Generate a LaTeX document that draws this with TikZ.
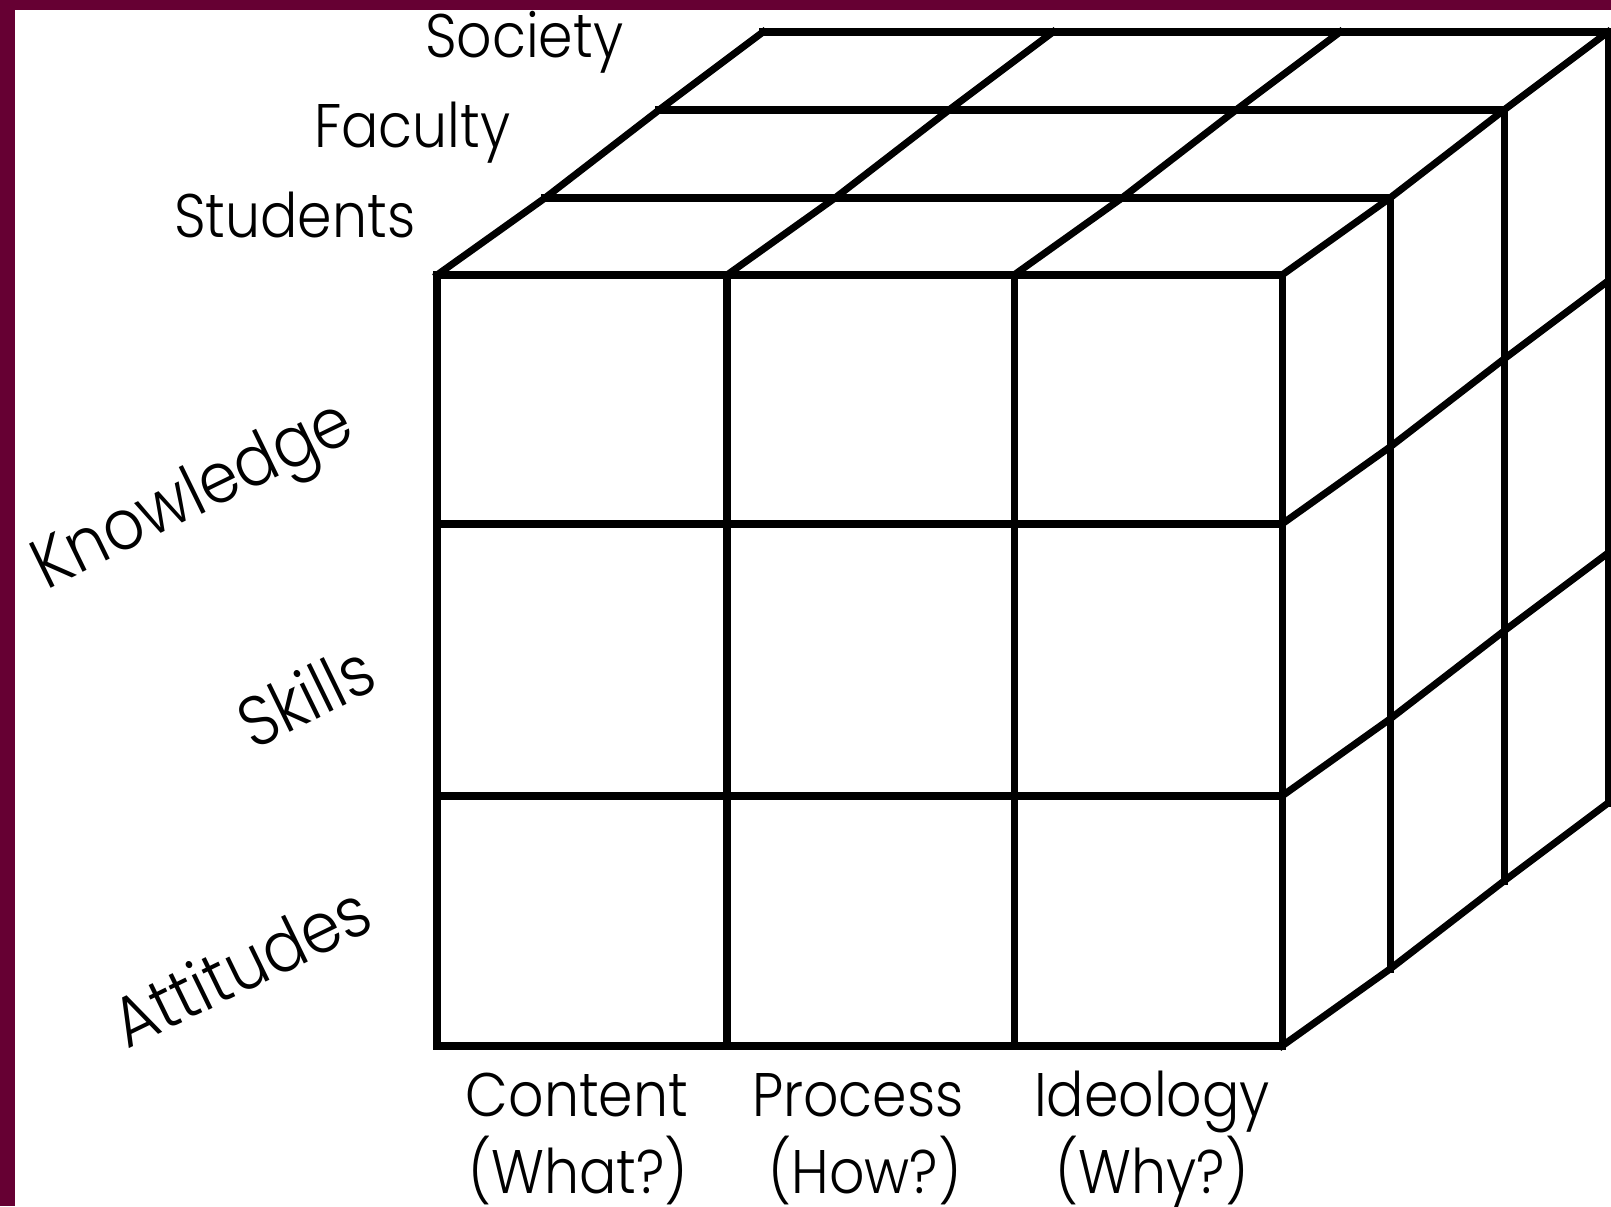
\documentclass[tikz,border=0pt]{standalone}
\usepackage{fontspec}
\setmainfont{Poppins Light}[FakeStretch=0.9]
\usepackage{tikz}
\usetikzlibrary{positioning}

\definecolor{framered}{HTML}{660033}

\begin{document}
\begin{tikzpicture}
	[
		edge/.style={line width=2pt, line cap=rect, line join=miter},
		lab/.style={font=\fontsize{17.5}{20}\selectfont, inner sep=0pt},
		side/.style={lab, font=\fontsize{20}{24}\selectfont, anchor=base, rotate=26}
	]
	% frame
	\useasboundingbox (0,0) rectangle (16.11,12.06);
	\fill[framered] (0,0) rectangle (16.11,12.06);
	\fill[white] (0.15,0) rectangle (16.11,11.96);

	% front face
	\foreach \x in {4.37,7.27,10.14,12.82}
		\draw[edge] (\x,1.60) -- (\x,9.31);
	\foreach \y in {1.60,4.10,6.82,9.31}
		\draw[edge] (4.37,\y) -- (12.82,\y);

	% layers behind: rows on top, columns on the right
	\foreach \dx/\dy in {1.08/0.77, 2.22/1.65, 3.26/2.43} {
		\draw[edge] (4.37+\dx,9.31+\dy) -- (12.82+\dx,9.31+\dy);
		\draw[edge] (12.82+\dx,1.60+\dy) -- (12.82+\dx,9.31+\dy);
	}

	% receding edges
	\foreach \x in {4.37,7.27,10.14,12.82}
		\draw[edge] (\x,9.31) -- (\x+1.08,10.08) -- (\x+2.22,10.96) -- (\x+3.26,11.74);
	\foreach \y in {1.60,4.10,6.82}
		\draw[edge] (12.82,\y) -- (13.90,\y+0.77) -- (15.04,\y+1.65) -- (16.08,\y+2.43);

	% depth labels
	\node[lab, anchor=base east] (society) at (6.24,11.48) {Society};
	\node[lab, anchor=base east] (faculty) at (5.11,10.58) {Faculty};
	\node[lab, anchor=base east] (students) at (4.16,9.68) {Students};

	% row labels
	\node[side] (knowledge) at (2.02,6.92) {Knowledge};
	\node[side] (skills) at (3.17,4.87) {Skills};
	\node[side] (attitudes) at (2.52,2.17) {Attitudes};

	% column labels
	\node[lab, anchor=base] (content) at (5.77,0.90) {Content};
	\node[lab, anchor=base] (what) at (5.78,0.13) {(What?)};
	\node[lab, anchor=base] (process) at (8.58,0.90) {Process};
	\node[lab, anchor=base] (how) at (8.65,0.13) {(How?)};
	\node[lab, anchor=base] (ideology) at (11.52,0.90) {Ideology};
	\node[lab, anchor=base] (why) at (11.52,0.13) {(Why?)};
\end{tikzpicture}
\end{document}
